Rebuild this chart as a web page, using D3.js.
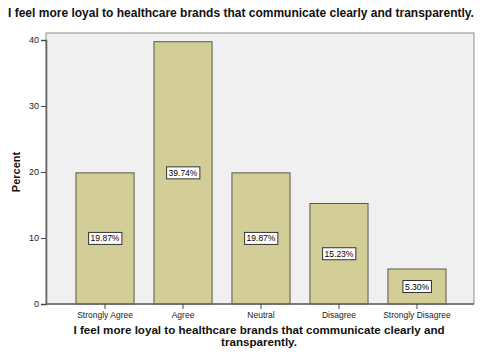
<!DOCTYPE html>
<html><head><meta charset="utf-8">
<script src="https://cdn.jsdelivr.net/npm/d3@7"></script>
<style>body{margin:0;background:#fff}svg{display:block}text{font-family:Arial,"Liberation Sans",sans-serif}</style>
</head><body>
<script>
const categories = ["Strongly Agree","Agree","Neutral","Disagree","Strongly Disagree"];
const values = [19.87, 39.74, 19.87, 15.23, 5.30];
const labels = ["19.87%","39.74%","19.87%","15.23%","5.30%"];
const yTicks = [0,10,20,30,40];

const W=482,H=357;
const svg=d3.select("body").append("svg").attr("width",W).attr("height",H);
const L=46,R=474,T=33,B=304;
const x=d3.scaleBand().domain(categories).range([66,456]).paddingInner(0.255).paddingOuter(0.128);
const y=d3.scaleLinear().domain([0,40]).range([B,40]);

svg.append("rect").attr("x",L).attr("y",T).attr("width",R-L).attr("height",B-T)
  .attr("fill","#f0f0f0").attr("stroke","#8c8c8c").attr("stroke-width",1);

svg.selectAll("rect.bar").data(values).enter().append("rect").attr("class","bar")
  .attr("x",(d,i)=>x(categories[i])).attr("width",x.bandwidth())
  .attr("y",d=>y(d)).attr("height",d=>B-y(d))
  .attr("fill","#d3ce98").attr("stroke","#5a5a4a").attr("stroke-width",1);

// y axis
const ya=svg.append("g").attr("transform",`translate(${L},0)`).call(d3.axisLeft(y).tickValues(yTicks).tickSize(5).tickPadding(2));
ya.select(".domain").attr("stroke","#666").attr("stroke-width",1.6);
ya.selectAll("line").attr("stroke","#444");
ya.selectAll("text").attr("font-size",9).attr("fill","#222");

// x axis
const xa=svg.append("g").attr("transform",`translate(0,${B})`).call(d3.axisBottom(x).tickSize(5).tickPadding(3));
xa.select(".domain").attr("stroke","#666").attr("stroke-width",1.6).attr("d",`M${L},0H${R}`);
xa.selectAll("line").attr("stroke","#444");
xa.selectAll("text").attr("font-size",8.5).attr("fill","#222");

// value labels
const lg=svg.selectAll("g.lab").data(values).enter().append("g").attr("class","lab");
lg.each(function(d,i){
  const g=d3.select(this);
  const cx=x(categories[i])+x.bandwidth()/2, cy=y(d/2);
  const t=g.append("text").attr("x",cx).attr("y",cy+3).attr("text-anchor","middle").attr("font-size",8.5).attr("fill","#000").text(labels[i]);
  const bb=t.node().getBBox();
  g.insert("rect","text").attr("x",bb.x-2).attr("y",cy-6).attr("width",bb.width+4).attr("height",12)
    .attr("fill","#fff").attr("stroke","#333").attr("stroke-width",1);
});

svg.append("text").attr("x",241).attr("y",17).attr("text-anchor","middle").attr("font-size",12).attr("font-weight","bold").attr("fill","#111")
  .text("I feel more loyal to healthcare brands that communicate clearly and transparently.");
svg.append("text").attr("transform","translate(20,172) rotate(-90)").attr("text-anchor","middle").attr("font-size",11).attr("font-weight","bold").attr("fill","#111").text("Percent");
svg.append("text").attr("x",259).attr("y",334).attr("text-anchor","middle").attr("font-size",11.6).attr("font-weight","bold").attr("fill","#111")
  .text("I feel more loyal to healthcare brands that communicate clearly and");
svg.append("text").attr("x",259).attr("y",346).attr("text-anchor","middle").attr("font-size",11.6).attr("font-weight","bold").attr("fill","#111")
  .text("transparently.");
</script>
</body></html>
